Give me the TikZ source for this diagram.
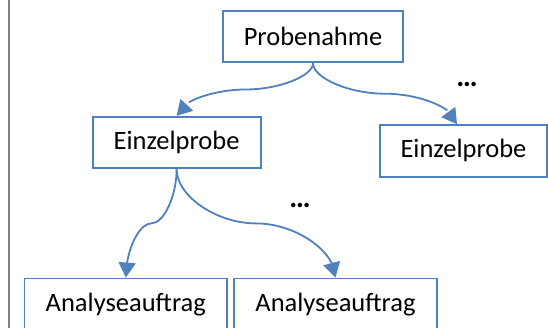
\documentclass[tikz,border=0pt]{standalone}
\usepackage{fontspec}
\setmainfont{Carlito}
\usetikzlibrary{arrows.meta, bending}
\definecolor{boxblue}{RGB}{79,129,189}
\begin{document}
\begin{tikzpicture}[x=1pt, y=-1pt,
    box/.style={rectangle, draw=boxblue, line width=1.8pt, minimum height=51.6pt, inner sep=0pt, font=\fontsize{26.5}{30}\selectfont},
    conn/.style={draw=boxblue, line width=1.8pt, -{Triangle[width=17pt,length=15pt,flex]}},
    more/.style={font=\fontsize{30}{34}\selectfont\bfseries}]
  \clip (0,0) rectangle (548,328);
  \draw[line width=2pt, gray] (8.7,0) -- (8.7,328);

  \node (prob) at (313,36.5) [box, minimum width=180pt] {Probenahme};

  \node (ep1) at (176.6,142.5) [box, minimum width=168pt] {Einzelprobe};
  \node (ep2) at (463.5,150.9) [box, minimum width=167pt] {Einzelprobe};

  \node (auf1) at (125.8,304.3) [box, minimum width=202.5pt] {Analyseauftrag};
  \node (auf2) at (335.5,304.3) [box, minimum width=203pt] {Analyseauftrag};

  \node (more1) at (467,84) [more] {…};
  \node (more2) at (300,205) [more] {…};

  % curved connectors
  \draw[conn] (prob.south) .. controls (313,75.9) and (279.3,89.5) .. (245.5,89.5)
    .. controls (211.8,89.5) and (176.6,103.1) .. (ep1.north);
  \draw[conn] (prob.south) .. controls (313,78) and (349,93.7) .. (385,93.7)
    .. controls (421,93.7) and (457,109.3) .. ([xshift=-6.5pt]ep2.north);
  \draw[conn] (ep1.south) .. controls (176.6,195.9) and (164,223.4) .. (151.3,223.4)
    .. controls (138.7,223.4) and (125.8,251) .. (auf1.north);
  \draw[conn] (ep1.south) .. controls (176.6,195.9) and (216.3,223.4) .. (255.9,223.4)
    .. controls (295.4,223.4) and (335.5,251) .. (auf2.north);
\end{tikzpicture}
\end{document}
